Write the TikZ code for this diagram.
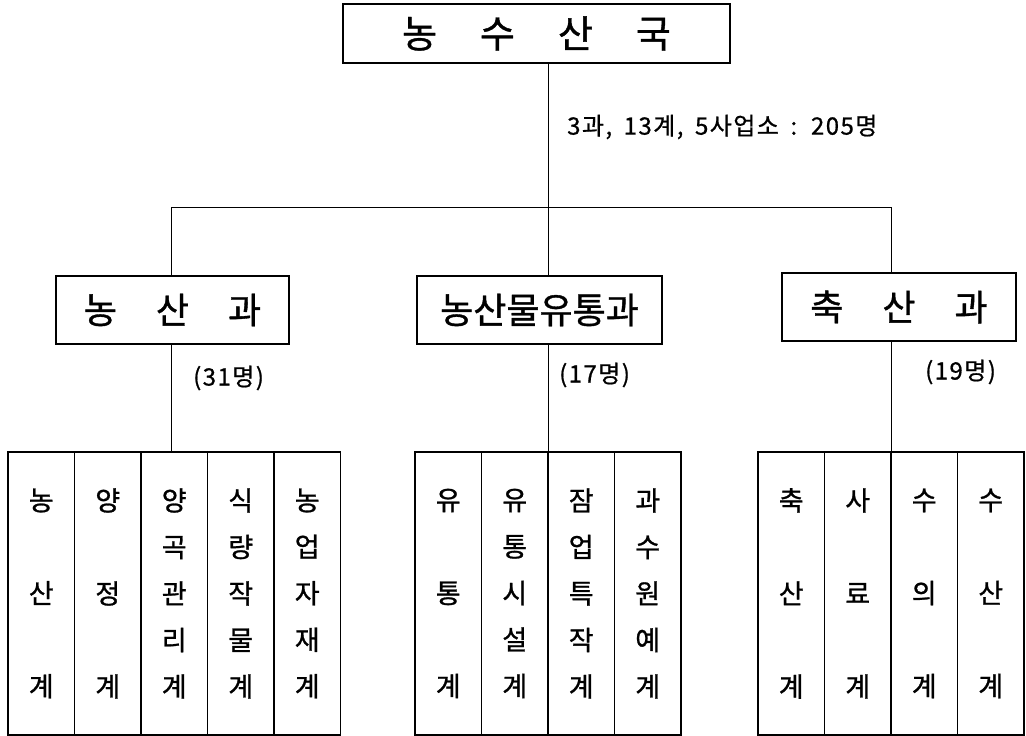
\documentclass[tikz,border=0pt]{standalone}
\usepackage{fontspec}
\setmainfont{Noto Sans CJK KR}
\newfontfamily\boxfont[FakeBold=1]{Noto Sans CJK KR}
\newfontfamily\lab[LetterSpace=6,FakeBold=0.8,WordSpace=1.7]{Noto Sans CJK KR}
\tikzset{
  guk/.style={draw, line width=2.5pt, minimum width=387pt, minimum height=59pt,
    inner sep=0pt, font=\boxfont\fontsize{38}{38}\selectfont},
  gwa/.style={draw, line width=2pt, minimum height=68pt, inner sep=0pt,
    font=\boxfont\fontsize{36}{36}\selectfont},
  gye/.style={draw, line width=1.6pt, minimum width=66.5pt, minimum height=283pt,
    inner sep=0pt, align=center, font=\boxfont\fontsize{27}{46.5}\selectfont},
  cnt/.style={anchor=west, inner sep=0pt, font=\lab\fontsize{24}{24}\selectfont}
}
\begin{document}
\begin{tikzpicture}[x=1pt,y=-1pt]
\useasboundingbox (0,0) rectangle (1026,736);
% bureau
\node[guk] (guk) at (536.5,33.5) {농\hspace{43pt}수\hspace{43pt}산\hspace{43pt}국};
\node[cnt] (total) at (567,127) {3과, 13계, 5사업소 : 205명};
% sections
\node[gwa, minimum width=233pt] (nongsan) at (172.5,310) {농\hspace{39pt}산\hspace{39pt}과};
\node[gwa, minimum width=245pt] (yutong) at (539.5,310) {농산물유통과};
\node[gwa, minimum width=234pt] (chuksan) at (899,307) {축\hspace{39pt}산\hspace{39pt}과};
\node[cnt] (n1) at (193,378) {(31명)};
\node[cnt] (n2) at (559,375) {(17명)};
\node[cnt] (n3) at (925,372) {(19명)};
% units
\node[gye] (g1) at (41.25,593.5) {농\\[46.5pt]산\\[46.5pt]계};
\node[gye] (g2) at (107.75,593.5) {양\\[46.5pt]정\\[46.5pt]계};
\node[gye] (g3) at (174.25,593.5) {양\\곡\\관\\리\\계};
\node[gye] (g4) at (240.75,593.5) {식\\량\\작\\물\\계};
\node[gye] (g5) at (307.25,593.5) {농\\업\\자\\재\\계};
\node[gye] (g6) at (448.25,593.5) {유\\[46.5pt]통\\[46.5pt]계};
\node[gye] (g7) at (514.75,593.5) {유\\통\\시\\설\\계};
\node[gye] (g8) at (581.25,593.5) {잠\\업\\특\\작\\계};
\node[gye] (g9) at (647.75,593.5) {과\\수\\원\\예\\계};
\node[gye] (g10) at (791.25,593.5) {축\\[46.5pt]산\\[46.5pt]계};
\node[gye] (g11) at (857.75,593.5) {사\\[46.5pt]료\\[46.5pt]계};
\node[gye] (g12) at (924.25,593.5) {수\\[46.5pt]의\\[46.5pt]계};
\node[gye] (g13) at (990.75,593.5) {수\\[46.5pt]산\\[46.5pt]계};
% lines
\coordinate (L) at (171,207);
\coordinate (J) at (548,207);
\coordinate (R) at (891,207);
\draw (J |- guk.south) -- (J);
\draw (L) -- (R);
\draw (L) -- (L |- nongsan.north);
\draw (J) -- (J |- yutong.north);
\draw (R) -- (R |- chuksan.north);
\draw (L |- nongsan.south) -- (L |- g3.north);
\draw (J |- yutong.south) -- (J |- g8.north);
\draw (R |- chuksan.south) -- (R |- g12.north);
\end{tikzpicture}
\end{document}
